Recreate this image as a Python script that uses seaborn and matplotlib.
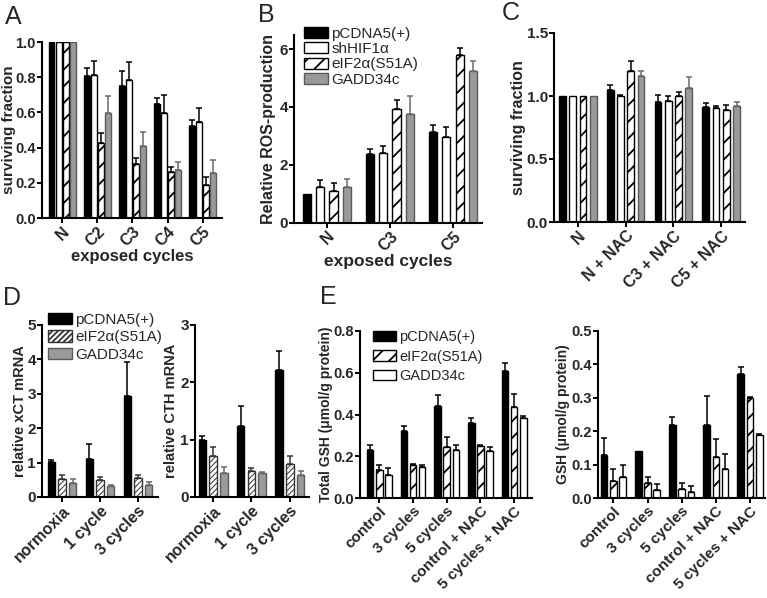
import numpy as np
import pandas as pd
import matplotlib
matplotlib.use("Agg")
import matplotlib.pyplot as plt
from matplotlib.patches import Patch
import seaborn as sns

sns.set_style("ticks")
plt.rcParams['font.family'] = ['Liberation Sans', 'DejaVu Sans']
plt.rcParams['hatch.linewidth'] = 1.3

# ---------------- data ----------------
# Panel A
A_cats = ['N', 'C2', 'C3', 'C4', 'C5']
A_pc = [1.0, 0.805, 0.752, 0.65, 0.52]
A_pc_err = [0, 0.05, 0.085, 0.034, 0.039]
A_sh = [1.0, 0.814, 0.786, 0.597, 0.544]
A_sh_err = [0, 0.076, 0.10, 0.10, 0.081]
A_eif = [1.0, 0.426, 0.307, 0.26, 0.188]
A_eif_err = [0, 0.057, 0.033, 0.028, 0.045]
A_gadd = [1.0, 0.597, 0.407, 0.275, 0.256]
A_gadd_err = [0, 0.098, 0.082, 0.043, 0.072]

# Panel B
B_cats = ['N', 'C3', 'C5']
B_pc = [1.0, 2.37, 3.14]
B_pc_err = [0, 0.18, 0.23]
B_sh = [1.24, 2.4, 2.97]
B_sh_err = [0.22, 0.23, 0.34]
B_eif = [1.1, 3.93, 5.8]
B_eif_err = [0.27, 0.31, 0.25]
B_gadd = [1.22, 3.74, 5.25]
B_gadd_err = [0.28, 0.64, 0.35]

# Panel C
C_cats = ['N', 'N + NAC', 'C3 + NAC', 'C5 + NAC']
C_pc = [1.0, 1.05, 0.952, 0.913]
C_pc_err = [0, 0.04, 0.058, 0.029]
C_sh = [1.0, 0.997, 0.963, 0.902]
C_sh_err = [0, 0.013, 0.034, 0.016]
C_eif = [1.0, 1.2, 0.997, 0.89]
C_eif_err = [0, 0.08, 0.037, 0.036]
C_gadd = [1.0, 1.156, 1.063, 0.923]
C_gadd_err = [0, 0.04, 0.087, 0.029]

# Panel D
D_cats = ['normoxia', '1 cycle', '3 cycles']
Dx_pc = [1.02, 1.1, 2.93]
Dx_pc_err = [0.07, 0.43, 1.0]
Dx_eif = [0.53, 0.49, 0.55]
Dx_eif_err = [0.1, 0.1, 0.09]
Dx_gadd = [0.41, 0.33, 0.36]
Dx_gadd_err = [0.1, 0.03, 0.07]
Dc_pc = [1.0, 1.24, 2.22]
Dc_pc_err = [0.06, 0.35, 0.33]
Dc_eif = [0.71, 0.45, 0.58]
Dc_eif_err = [0.16, 0.05, 0.14]
Dc_gadd = [0.41, 0.41, 0.38]
Dc_gadd_err = [0.11, 0.02, 0.08]

# Panel E
E_cats = ['control', '3 cycles', '5 cycles', 'control + NAC', '5 cycles + NAC']
Et_pc = [0.23, 0.32, 0.44, 0.36, 0.61]
Et_pc_err = [0.025, 0.027, 0.053, 0.022, 0.036]
Et_eif = [0.135, 0.16, 0.245, 0.25, 0.435]
Et_eif_err = [0.023, 0.004, 0.045, 0.003, 0.063]
Et_gadd = [0.11, 0.15, 0.23, 0.225, 0.385]
Et_gadd_err = [0.033, 0.01, 0.022, 0.017, 0.006]
Eg_pc = [0.13, 0.14, 0.22, 0.22, 0.37]
Eg_pc_err = [0.049, 0, 0.023, 0.086, 0.023]
Eg_eif = [0.05, 0.045, 0.028, 0.122, 0.298]
Eg_eif_err = [0.037, 0.018, 0.017, 0.054, 0.004]
Eg_gadd = [0.063, 0.025, 0.019, 0.086, 0.19]
Eg_gadd_err = [0.037, 0.017, 0.018, 0.047, 0.002]

names4 = ['pCDNA5(+)', 'shHIF1α', 'eIF2α(S51A)', 'GADD34c']
names3 = ['pCDNA5(+)', 'eIF2α(S51A)', 'GADD34c']

# ---------------- styles ----------------
BLACK = dict(fc='black', ec='black', hatch=None, err='black')
WHITE = dict(fc='white', ec='black', hatch=None, err='black')
HATCH = dict(fc='white', ec='black', hatch='//', err='black')
DHATCH = dict(fc='white', ec='#333333', hatch='//////', err='#333333')
GRAY = dict(fc='#9a9a9a', ec='#5a5a5a', hatch=None, err='#6a6a6a')

W, H = 767, 598
fig = plt.figure(figsize=(W / 100, H / 100), dpi=100)


def rect(x0, x1, ytop, ybot):
    return [x0 / W, 1 - ybot / H, (x1 - x0) / W, (ybot - ytop) / H]


def panel(r, cats, names, vals, errs, styles, ylim, yticks, yfmt, xlim,
          width, gap, ylabel, ylab_x, xlabel=None, hatch_lw=1.3, tick_fs=11,
          xtick_fs=11.5, lab_fs=11.5):
    ax = fig.add_axes(rect(*r))
    rows = []
    for n, v in zip(names, vals):
        for c, y in zip(cats, v):
            rows.append((c, n, y))
    df = pd.DataFrame(rows, columns=['cat', 'series', 'val'])
    sns.barplot(data=df, x='cat', y='val', hue='series', order=cats,
                hue_order=names, width=width, gap=gap, errorbar=None,
                legend=False, ax=ax, saturation=1,
                palette=['#000000'] * len(names))
    for cont, st, er in zip(ax.containers, styles, errs):
        xs, hs, es = [], [], []
        for bar, e in zip(cont, er):
            bar.set_facecolor(st['fc'])
            bar.set_edgecolor(st['ec'])
            bar.set_linewidth(1.0)
            if st['hatch']:
                bar.set_hatch(st['hatch'])
                if hasattr(bar, 'set_hatch_linewidth'):
                    bar.set_hatch_linewidth(hatch_lw)
            if e > 0:
                xs.append(bar.get_x() + bar.get_width() / 2)
                hs.append(bar.get_height())
                es.append(e)
        if xs:
            ax.errorbar(xs, hs, yerr=[np.zeros(len(es)), es], fmt='none',
                        ecolor=st['err'], elinewidth=1.1, capsize=2.2,
                        capthick=1.1, zorder=1)
    ax.set_xlim(*xlim)
    ax.set_ylim(*ylim)
    ax.set_yticks(yticks)
    ax.set_yticklabels([yfmt.format(t) for t in yticks],
                       fontsize=tick_fs, fontweight='bold')
    ax.set_xticks(range(len(cats)))
    ax.set_xticklabels(cats, rotation=45, ha='right', rotation_mode='anchor',
                       fontsize=xtick_fs, fontweight='bold')
    ax.tick_params(axis='both', direction='out', length=3.5, width=1.4,
                   pad=1, color='black')
    for s in ['top', 'right']:
        ax.spines[s].set_visible(False)
    for s in ['left', 'bottom']:
        ax.spines[s].set_linewidth(1.5)
        ax.spines[s].set_color('black')
    ax.set_ylabel(ylabel, fontsize=lab_fs, fontweight='bold')
    x0, x1 = r[0], r[1]
    ax.yaxis.set_label_coords((ylab_x - x0) / (x1 - x0), 0.5)
    if xlabel:
        ax.set_xlabel(xlabel, fontsize=lab_fs + 1, fontweight='bold',
                      labelpad=0)
    else:
        ax.set_xlabel('')
    return ax


def legend(ax, names, styles, x, y, fs, spacing, hl=1.6, hh=0.75, hatch_lw=1.3):
    handles = []
    for st in styles:
        p = Patch(facecolor=st['fc'], edgecolor=st['ec'], hatch=st['hatch'],
                  linewidth=1.0)
        if st['hatch'] and hasattr(p, 'set_hatch_linewidth'):
            p.set_hatch_linewidth(hatch_lw)
        handles.append(p)
    ax.legend(handles, names, loc='upper left',
              bbox_to_anchor=(x / W, 1 - y / H),
              bbox_transform=fig.transFigure, frameon=False, fontsize=fs,
              borderpad=0, borderaxespad=0, handlelength=hl,
              handleheight=hh, handletextpad=0.2, labelspacing=spacing)


S4 = [BLACK, WHITE, HATCH, GRAY]

axA = panel((42, 222, 42, 218), A_cats, names4,
            [A_pc, A_sh, A_eif, A_gadd],
            [A_pc_err, A_sh_err, A_eif_err, A_gadd_err], S4,
            (0, 1.0), [0, 0.2, 0.4, 0.6, 0.8, 1.0], '{:.1f}',
            (-0.57, 4.55), 0.8, 0.15, 'surviving fraction', 16,
            'exposed cycles', tick_fs=10.5, lab_fs=11)

axB = panel((294, 482, 34.6, 222.5), B_cats, names4,
            [B_pc, B_sh, B_eif, B_gadd],
            [B_pc_err, B_sh_err, B_eif_err, B_gadd_err], S4,
            (0, 6.5), [0, 2, 4, 6], '{:.0f}',
            (-0.52, 2.46), 0.85, 0.38, 'Relative ROS-production', 276,
            'exposed cycles')
legend(axB, names4, S4, 304, 27, 11, 0.08)

axC = panel((554, 745, 33, 222), C_cats, names4,
            [C_pc, C_sh, C_eif, C_gadd],
            [C_pc_err, C_sh_err, C_eif_err, C_gadd_err], S4,
            (0, 1.5), [0, 0.5, 1.0, 1.5], '{:.1f}',
            (-0.5, 3.5), 0.86, 0.35, 'surviving fraction', 526)

S3D = [BLACK, DHATCH, GRAY]
axD1 = panel((42, 158, 325, 497), D_cats, names3,
             [Dx_pc, Dx_eif, Dx_gadd], [Dx_pc_err, Dx_eif_err, Dx_gadd_err],
             S3D, (0, 5), [0, 1, 2, 3, 4, 5], '{:.0f}',
             (-0.53, 2.53), 0.84, 0.3, 'relative xCT mRNA', 27,
             hatch_lw=0.7, lab_fs=10.5)
legend(axD1, names3, S3D, 48, 313, 11, 0.22, hatch_lw=0.7)

axD2 = panel((195, 309, 325, 497), D_cats, names3,
             [Dc_pc, Dc_eif, Dc_gadd], [Dc_pc_err, Dc_eif_err, Dc_gadd_err],
             S3D, (0, 3), [0, 1, 2, 3], '{:.0f}',
             (-0.47, 2.5), 0.84, 0.3, 'relative CTH mRNA', 178,
             hatch_lw=0.7, lab_fs=10.5)

S3E = [BLACK, HATCH, WHITE]
axE1 = panel((360, 532, 331, 498), E_cats, names3,
             [Et_pc, Et_eif, Et_gadd], [Et_pc_err, Et_eif_err, Et_gadd_err],
             S3E, (0, 0.8), [0, 0.2, 0.4, 0.6, 0.8], '{:.1f}',
             (-0.57, 4.53), 0.81, 0.28, 'Total GSH (μmol/g protein)', 333,
             lab_fs=10, tick_fs=10.5, xtick_fs=11)
legend(axE1, names3, S3E, 373, 330, 10.5, 0.38)

axE2 = panel((598, 765, 331, 498), E_cats, names3,
             [Eg_pc, Eg_eif, Eg_gadd], [Eg_pc_err, Eg_eif_err, Eg_gadd_err],
             S3E, (0, 0.5), [0, 0.1, 0.2, 0.3, 0.4, 0.5], '{:.1f}',
             (-0.45, 4.44), 0.81, 0.28, 'GSH (μmol/g protein)', 570,
             lab_fs=10, tick_fs=10.5, xtick_fs=11)

for lab, x, y in [('A', 5, 5), ('B', 258, 3), ('C', 502, 1),
                  ('D', 3, 286), ('E', 320, 285)]:
    fig.text(x / W, 1 - y / H, lab, fontsize=18, va='top', ha='left')

fig.savefig('out.png', dpi=100)
